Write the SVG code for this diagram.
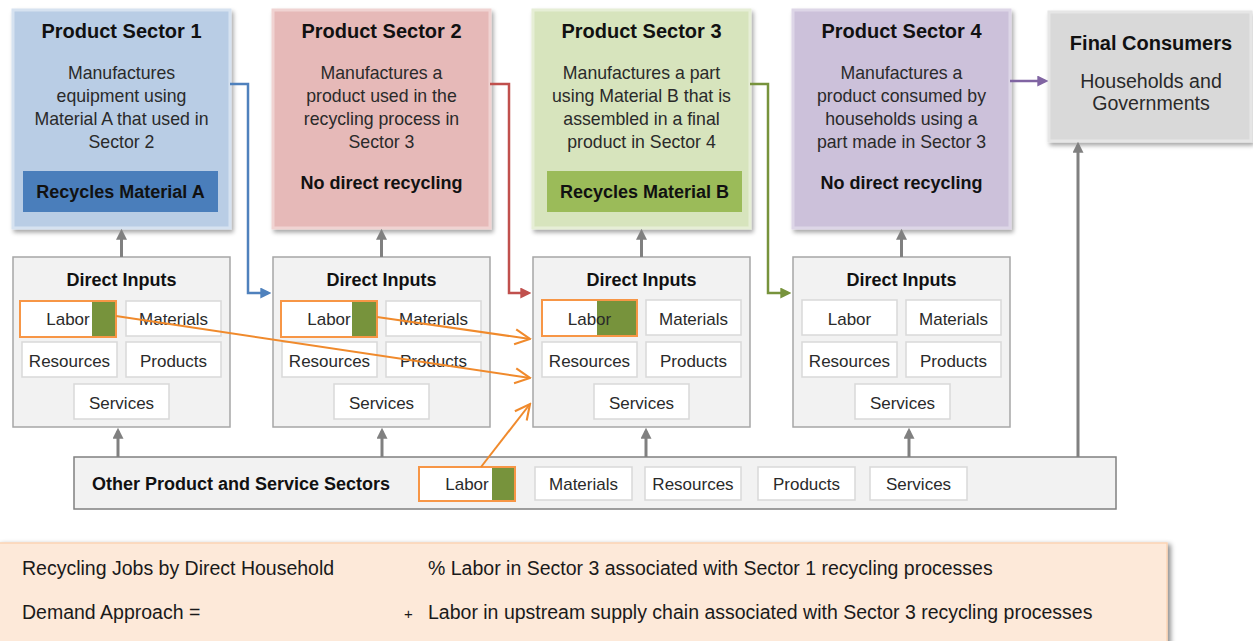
<svg xmlns="http://www.w3.org/2000/svg" width="1253" height="641" viewBox="0 0 1253 641">
<style>
text{font-family:"Liberation Sans",Arial,sans-serif}
.title{font-size:20px;font-weight:bold;text-anchor:middle;fill:#111}
.body{font-size:17.7px;text-anchor:middle;fill:#2a2a2a}
.bold{font-size:18px;font-weight:bold;text-anchor:middle;fill:#111}
.fc{font-size:19.6px;text-anchor:middle;fill:#2a2a2a}
.di{fill:#f2f2f2;stroke:#a6a6a6;stroke-width:1.5}
.cell{fill:#fff;stroke:#d9d9d9;stroke-width:1.5}
.lab{fill:#fff;stroke:#f79646;stroke-width:2}
.grn{fill:#77933c}
.ct{font-size:17px;text-anchor:middle;fill:#2a2a2a}
.gray{stroke:#808080;stroke-width:3;fill:none}
.or{stroke:#f08a2c;stroke-width:2;fill:none}
.note{font-size:19.5px;fill:#1a1a1a}
</style>
<defs>
<filter id="sh" x="-10%" y="-10%" width="125%" height="125%">
<feDropShadow dx="2" dy="3" stdDeviation="2" flood-color="#000" flood-opacity="0.35"/>
</filter>
<filter id="sh2" x="-5%" y="-10%" width="110%" height="130%">
<feDropShadow dx="3" dy="2" stdDeviation="2.5" flood-color="#000" flood-opacity="0.45"/>
</filter>
<marker id="ag" viewBox="0 0 10 10" refX="7" refY="5" markerWidth="11" markerHeight="11" markerUnits="userSpaceOnUse" orient="auto"><path d="M0,0 L10,5 L0,10 z" fill="#808080"/></marker>
<marker id="ab" viewBox="0 0 10 10" refX="7" refY="5" markerWidth="11" markerHeight="11" markerUnits="userSpaceOnUse" orient="auto"><path d="M0,0 L10,5 L0,10 z" fill="#4f81bd"/></marker>
<marker id="ar" viewBox="0 0 10 10" refX="7" refY="5" markerWidth="11" markerHeight="11" markerUnits="userSpaceOnUse" orient="auto"><path d="M0,0 L10,5 L0,10 z" fill="#c0504d"/></marker>
<marker id="agr" viewBox="0 0 10 10" refX="7" refY="5" markerWidth="11" markerHeight="11" markerUnits="userSpaceOnUse" orient="auto"><path d="M0,0 L10,5 L0,10 z" fill="#77933c"/></marker>
<marker id="ap" viewBox="0 0 10 10" refX="7" refY="5" markerWidth="11" markerHeight="11" markerUnits="userSpaceOnUse" orient="auto"><path d="M0,0 L10,5 L0,10 z" fill="#8064a2"/></marker>
<marker id="ao" viewBox="0 0 12 12" refX="11" refY="6" markerWidth="18" markerHeight="18" markerUnits="userSpaceOnUse" orient="auto"><path d="M1,1 L11,6 L1,11" fill="none" stroke="#f08a2c" stroke-width="1.4"/></marker>
</defs>
<rect width="1253" height="641" fill="#fff"/>

<g id="sector1">
<rect x="13" y="10" width="217" height="218" fill="#b9cde5" stroke="#d6e2f0" stroke-width="3" filter="url(#sh)"/>
<text class="title" x="121.5" y="38">Product Sector 1</text>
<text class="body" x="121.5" y="79">Manufactures</text>
<text class="body" x="121.5" y="102">equipment using</text>
<text class="body" x="121.5" y="125">Material A that used in</text>
<text class="body" x="121.5" y="148">Sector 2</text>
<rect x="23" y="171" width="195" height="41" fill="#4a7ebb"/>
<text class="bold" x="120.5" y="198">Recycles Material A</text>
</g>
<g id="sector2">
<rect x="273" y="10" width="217" height="218" fill="#e6b9b8" stroke="#f0d3d2" stroke-width="3" filter="url(#sh)"/>
<text class="title" x="381.5" y="38">Product Sector 2</text>
<text class="body" x="381.5" y="79">Manufactures a</text>
<text class="body" x="381.5" y="102">product used in the</text>
<text class="body" x="381.5" y="125">recycling process in</text>
<text class="body" x="381.5" y="148">Sector 3</text>
<text class="bold" x="381.5" y="189">No direct recycling</text>
</g>
<g id="sector3">
<rect x="533" y="10" width="217" height="218" fill="#d7e4bd" stroke="#e6eed6" stroke-width="3" filter="url(#sh)"/>
<text class="title" x="641.5" y="38">Product Sector 3</text>
<text class="body" x="641.5" y="79">Manufactures a part</text>
<text class="body" x="641.5" y="102">using Material B that is</text>
<text class="body" x="641.5" y="125">assembled in a final</text>
<text class="body" x="641.5" y="148">product in Sector 4</text>
<rect x="547" y="171" width="195" height="41" fill="#9bbb59"/>
<text class="bold" x="644.5" y="198">Recycles Material B</text>
</g>
<g id="sector4">
<rect x="793" y="10" width="217" height="218" fill="#ccc1da" stroke="#ddd6e7" stroke-width="3" filter="url(#sh)"/>
<text class="title" x="901.5" y="38">Product Sector 4</text>
<text class="body" x="901.5" y="79">Manufactures a</text>
<text class="body" x="901.5" y="102">product consumed by</text>
<text class="body" x="901.5" y="125">households using a</text>
<text class="body" x="901.5" y="148">part made in Sector 3</text>
<text class="bold" x="901.5" y="189">No direct recycling</text>
</g>
<g id="final">
<rect x="1049" y="12" width="202" height="129" fill="#d9d9d9" stroke="#e6e6e6" stroke-width="3" filter="url(#sh)"/>
<text class="title" x="1151" y="50">Final Consumers</text>
<text class="fc" x="1151" y="88">Households and</text>
<text class="fc" x="1151" y="110">Governments</text>
</g>

<g id="inputs1">
<rect class="di" x="13" y="257" width="217" height="170"/>
<text class="bold" x="121.5" y="286">Direct Inputs</text>
<rect class="lab" x="20" y="301" width="96" height="36"/>
<rect class="grn" x="92" y="302" width="23" height="34"/>
<text class="ct" x="68" y="325">Labor</text>
<rect class="cell" x="126" y="301" width="95" height="35"/>
<text class="ct" x="173.5" y="325">Materials</text>
<rect class="cell" x="22" y="342" width="95" height="35"/>
<text class="ct" x="69.5" y="367">Resources</text>
<rect class="cell" x="126" y="342" width="95" height="35"/>
<text class="ct" x="173.5" y="367">Products</text>
<rect class="cell" x="74" y="384" width="95" height="35"/>
<text class="ct" x="121.5" y="409">Services</text>
</g>
<g id="inputs2">
<rect class="di" x="273" y="257" width="217" height="170"/>
<text class="bold" x="381.5" y="286">Direct Inputs</text>
<rect class="lab" x="281" y="301" width="96" height="36"/>
<rect class="grn" x="352" y="302" width="24" height="34"/>
<text class="ct" x="329" y="325">Labor</text>
<rect class="cell" x="386" y="301" width="95" height="35"/>
<text class="ct" x="433.5" y="325">Materials</text>
<rect class="cell" x="282" y="342" width="95" height="35"/>
<text class="ct" x="329.5" y="367">Resources</text>
<rect class="cell" x="386" y="342" width="95" height="35"/>
<text class="ct" x="433.5" y="367">Products</text>
<rect class="cell" x="334" y="384" width="95" height="35"/>
<text class="ct" x="381.5" y="409">Services</text>
</g>
<g id="inputs3">
<rect class="di" x="533" y="257" width="217" height="170"/>
<text class="bold" x="641.5" y="286">Direct Inputs</text>
<rect class="lab" x="542" y="300" width="95" height="36"/>
<rect class="grn" x="597" y="301" width="39" height="34"/>
<text class="ct" x="589.5" y="325">Labor</text>
<rect class="cell" x="646" y="300" width="95" height="35"/>
<text class="ct" x="693.5" y="325">Materials</text>
<rect class="cell" x="542" y="342" width="95" height="35"/>
<text class="ct" x="589.5" y="367">Resources</text>
<rect class="cell" x="646" y="342" width="95" height="35"/>
<text class="ct" x="693.5" y="367">Products</text>
<rect class="cell" x="594" y="384" width="95" height="35"/>
<text class="ct" x="641.5" y="409">Services</text>
</g>
<g id="inputs4">
<rect class="di" x="793" y="257" width="217" height="170"/>
<text class="bold" x="901.5" y="286">Direct Inputs</text>
<rect class="cell" x="802" y="300" width="95" height="35"/>
<text class="ct" x="849.5" y="325">Labor</text>
<rect class="cell" x="906" y="300" width="95" height="35"/>
<text class="ct" x="953.5" y="325">Materials</text>
<rect class="cell" x="802" y="342" width="95" height="35"/>
<text class="ct" x="849.5" y="367">Resources</text>
<rect class="cell" x="906" y="342" width="95" height="35"/>
<text class="ct" x="953.5" y="367">Products</text>
<rect class="cell" x="855" y="384" width="95" height="35"/>
<text class="ct" x="902.5" y="409">Services</text>
</g>

<g id="other">
<rect x="74" y="457" width="1042" height="52" fill="#f2f2f2" stroke="#808080" stroke-width="1.5"/>
<text x="92" y="490" style="font-size:18px;font-weight:bold;fill:#111">Other Product and Service Sectors</text>
<rect class="lab" x="419" y="467" width="96" height="34"/>
<rect class="grn" x="492" y="468" width="22" height="32"/>
<text class="ct" x="467" y="490">Labor</text>
<rect class="cell" x="535" y="467" width="97" height="33"/>
<text class="ct" x="583.5" y="490">Materials</text>
<rect class="cell" x="645" y="467" width="96" height="33"/>
<text class="ct" x="693" y="490">Resources</text>
<rect class="cell" x="758" y="467" width="97" height="33"/>
<text class="ct" x="806.5" y="490">Products</text>
<rect class="cell" x="870" y="467" width="97" height="33"/>
<text class="ct" x="918.5" y="490">Services</text>
</g>

<g id="note">
<rect x="-2" y="543" width="1169" height="110" fill="#fde9d9" stroke="#fbd4b4" stroke-width="1.5" filter="url(#sh2)"/>
<text class="note" x="22" y="575">Recycling Jobs by Direct Household</text>
<text class="note" x="22" y="619">Demand Approach =</text>
<text class="note" x="428" y="575">% Labor in Sector 3 associated with Sector 1 recycling processes</text>
<text class="note" x="404" y="619" style="font-size:15px">+</text>
<text class="note" x="428" y="619">Labor in upstream supply chain associated with Sector 3 recycling processes</text>
</g>

<g id="connectors">
<line class="gray" x1="121.5" y1="257" x2="121.5" y2="232" marker-end="url(#ag)"/>
<line class="gray" x1="381.5" y1="257" x2="381.5" y2="232" marker-end="url(#ag)"/>
<line class="gray" x1="641.5" y1="257" x2="641.5" y2="232" marker-end="url(#ag)"/>
<line class="gray" x1="901.5" y1="257" x2="901.5" y2="232" marker-end="url(#ag)"/>
<line class="gray" x1="118" y1="457" x2="118" y2="431" marker-end="url(#ag)"/>
<line class="gray" x1="382" y1="457" x2="382" y2="431" marker-end="url(#ag)"/>
<line class="gray" x1="646" y1="457" x2="646" y2="431" marker-end="url(#ag)"/>
<line class="gray" x1="909" y1="457" x2="909" y2="431" marker-end="url(#ag)"/>
<line class="gray" x1="1078" y1="457" x2="1078" y2="145" marker-end="url(#ag)"/>
<path d="M230,84 H248 V293 H268" fill="none" stroke="#4f81bd" stroke-width="2.5" marker-end="url(#ab)"/>
<path d="M490,84 H509 V293 H528" fill="none" stroke="#c0504d" stroke-width="2.5" marker-end="url(#ar)"/>
<path d="M750,84 H768 V293 H788" fill="none" stroke="#77933c" stroke-width="2.5" marker-end="url(#agr)"/>
<path d="M1010,81 H1045" fill="none" stroke="#8064a2" stroke-width="2.5" marker-end="url(#ap)"/>
<line class="or" x1="116" y1="316" x2="530" y2="378" marker-end="url(#ao)"/>
<line class="or" x1="377" y1="317" x2="530" y2="339" marker-end="url(#ao)"/>
<line class="or" x1="481" y1="467" x2="530" y2="404" marker-end="url(#ao)"/>
</g>
</svg>
